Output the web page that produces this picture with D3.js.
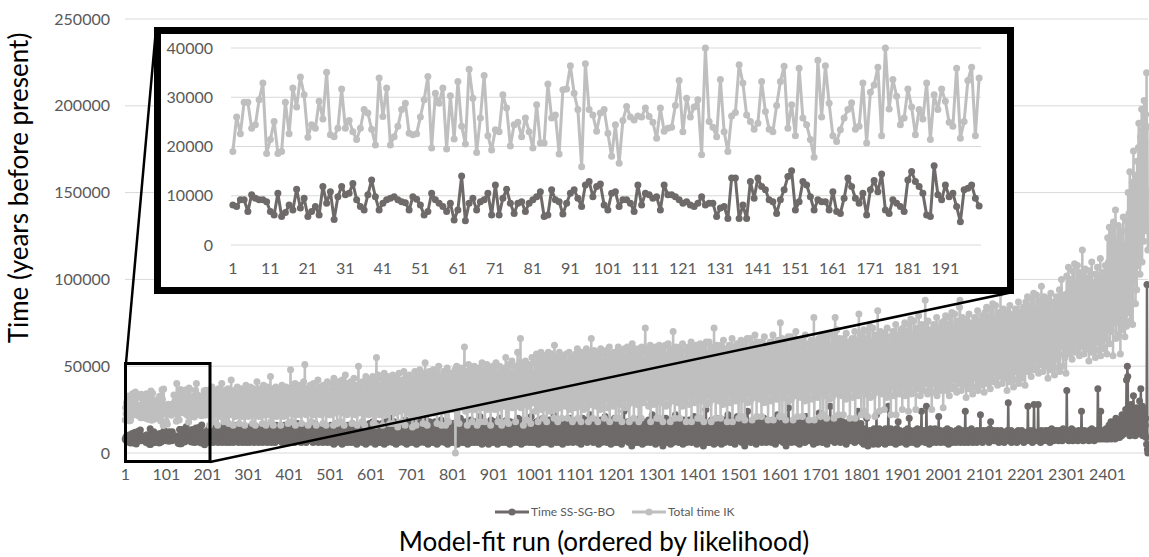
<!DOCTYPE html>
<html>
<head>
<meta charset="utf-8">
<script src="https://cdn.jsdelivr.net/npm/d3@7"></script>
<style>
  body { margin: 0; background: #fff; }
  text { font-family: Lato, "Open Sans", sans-serif; }
</style>
</head>
<body>
<svg id="chart" width="1149" height="557"></svg>
<script>
// all values in thousands of years

// runs 1-200 (the zoomed inset)
const insetDark = [
  8.1,7.8,9.2,9.2,6.8,10.2,9.5,9.2,9.2,8.8,6.8,6.1,10.5,5.8,6.6,8.1,7.1,11.3,7.5,9.5,
  5.8,6.8,7.8,6.1,11.9,8.5,10.8,5.2,9.8,11.9,10.2,10.5,12.5,9.2,7.8,7.1,10.2,
  13.2,9.8,7.1,8.5,9.2,9.5,9.8,9.2,8.8,8.6,7.1,9.8,9.3,8.1,6.1,6.8,10.5,9.2,8.5,7.8,
  6.8,8.5,5.1,7.1,14.0,4.9,8.5,9.5,7.1,8.8,9.2,10.5,6.1,12.2,6.1,9.5,11.3,8.5,6.4,8.5,
  8.8,6.8,8.5,9.2,9.8,10.8,5.8,6.1,11.2,9.2,8.8,6.3,8.5,10.5,11.2,9.5,7.8,12.2,
  12.9,9.8,11.9,12.4,8.1,7.1,10.5,10.8,7.8,9.2,9.2,8.5,6.8,12.2,8.1,10.5,10.2,9.5,9.8,7.1,
  12.2,10.2,10.2,9.8,9.2,8.5,8.8,8.1,7.8,8.5,9.8,8.1,8.5,8.5,5.8,7.5,7.8,5.4,13.6,13.6,
  5.4,8.1,5.4,12.9,9.5,13.6,11.9,11.2,9.2,8.8,6.4,9.2,11.2,13.9,15.1,7.1,
  8.8,12.9,12.2,9.8,7.1,9.2,8.8,8.8,7.1,10.8,6.8,6.4,9.5,13.6,11.9,9.5,8.5,10.5,6.1,11.2,
  13.1,10.8,14.4,7.1,6.4,9.2,8.5,7.8,6.8,13.2,14.9,12.9,11.9,10.5,6.1,5.8,16.1,10.2,9.2,12.2,
  9.8,10.5,7.8,4.7,11.2,11.5,12.2,9.5,7.9
];
const insetLight = [
  19.0,26.0,22.6,29.0,29.0,23.7,24.4,29.5,32.9,18.6,21.4,25.1,18.6,19.0,29.0,22.6,31.9,28.0,34.1,30.5,
  21.9,24.4,23.7,29.2,25.6,35.1,22.4,22.0,23.7,31.7,23.7,25.3,23.0,21.4,23.7,27.5,26.8,23.5,20.3,
  33.9,26.1,31.9,20.3,22.0,24.1,27.5,28.8,22.7,22.4,22.6,26.0,29.5,34.2,19.7,30.8,28.8,31.9,19.5,30.3,
  21.5,33.2,24.1,20.5,35.7,29.8,18.8,25.8,34.4,22.2,19.3,23.4,23.0,30.5,27.8,20.1,24.4,24.9,22.0,25.8,
  23.0,19.7,28.5,20.7,20.7,32.7,25.8,26.4,18.5,31.5,31.7,36.4,30.8,27.5,15.9,36.8,
  27.5,26.4,23.1,26.8,27.5,22.7,18.0,24.4,16.6,25.3,28.1,26.0,25.4,26.2,26.0,27.8,26.1,24.9,21.7,27.8,
  23.1,23.7,23.9,28.3,33.4,23.0,29.8,26.0,28.0,29.5,18.3,40.0,25.1,23.9,22.0,33.6,23.0,19.0,26.2,26.9,
  36.6,32.9,26.4,25.1,23.5,24.7,33.2,27.1,23.5,23.0,28.3,33.2,36.3,23.7,28.5,22.2,
  35.9,25.8,24.4,21.4,17.8,37.5,26.0,36.4,28.8,22.2,21.0,23.4,25.8,27.5,28.9,23.5,24.1,32.9,20.7,31.0,
  32.5,36.1,22.2,40.0,27.6,33.6,30.2,24.4,25.8,31.7,28.0,22.4,27.5,25.6,32.9,21.4,30.5,27.5,31.7,29.2,
  24.9,24.1,35.9,21.7,25.1,33.4,36.1,22.2,33.9
];

// runs 201-2500
const restDark = [
  9,12,7,10,14,8,6,11,9,13,7,10,15,8,11,6,9,12,8,14,10,7,11,9,13,
  8,11,6,13,9,10,15,7,12,8,10,14,6,9,11,13,8,7,12,10,16,9,6,11,8,
  12,7,10,14,9,6,11,13,8,10,15,7,9,12,6,11,14,8,10,9,13,7,11,16,8,
  10,13,6,9,12,8,15,11,7,10,14,9,6,12,8,11,13,7,9,15,10,6,12,8,11,
  7,12,9,14,6,10,13,8,11,16,7,9,12,10,15,6,11,8,13,9,7,14,10,12,8,
  11,6,13,9,10,15,7,12,8,14,9,6,11,13,10,8,16,7,12,9,11,14,6,10,13,
  9,14,7,11,8,13,10,6,15,9,12,7,10,14,8,11,6,13,9,16,7,12,10,8,14,
  12,8,10,15,7,9,13,11,6,14,8,12,10,7,16,9,11,13,6,10,14,8,12,9,7,
  10,15,8,12,6,13,9,11,16,7,10,14,8,12,6,15,9,11,13,7,10,17,8,12,9,
  14,7,11,9,15,6,12,10,8,16,9,13,7,11,14,8,10,6,15,12,9,7,13,11,8,
  11,16,8,10,13,7,9,15,12,6,10,14,8,11,17,9,7,13,10,12,8,15,6,11,9,
  13,9,12,7,15,10,8,14,6,11,16,9,12,7,10,13,8,15,11,6,9,14,10,12,7,
  8,13,10,16,6,11,9,14,7,12,5,15,10,8,13,11,6,17,9,12,7,14,10,8,16,
  11,7,14,9,12,5,16,10,8,13,6,11,15,9,7,12,10,14,6,16,8,11,13,7,10,
  14,9,6,12,10,17,7,11,13,8,15,6,10,12,9,14,5,11,16,8,13,7,10,15,9,
  7,12,15,8,11,6,14,10,9,16,7,13,11,5,12,15,8,10,14,6,11,9,17,7,12,
  10,16,7,13,9,18,6,11,14,8,12,5,15,10,7,17,9,13,11,6,14,8,16,10,12,
  6,13,9,17,11,7,15,10,5,14,12,8,18,9,11,6,13,16,8,10,15,7,12,20,9,
  14,8,11,16,6,12,10,18,7,13,9,15,5,11,14,8,17,10,6,13,12,9,16,7,11,
  9,15,12,7,17,10,6,14,11,8,19,9,13,5,12,16,10,7,15,11,8,14,6,18,10,
  12,7,16,10,14,6,11,18,8,13,9,15,5,12,17,7,10,14,9,16,6,11,13,8,19,
  7,14,10,17,8,12,15,6,11,20,9,13,7,16,10,5,14,12,8,18,11,6,15,9,13,
  16,9,12,6,15,11,8,18,10,7,14,12,5,17,9,13,11,6,16,10,14,8,19,7,12,
  10,13,7,17,9,15,6,12,11,16,8,14,10,5,18,12,7,15,9,13,6,17,11,8,14,
  8,15,11,6,17,9,13,10,14,7,18,12,5,11,16,9,14,8,12,20,7,15,10,13,6,
  13,7,16,10,12,6,18,9,15,11,8,14,5,17,10,13,7,16,12,9,19,6,11,15,8,
  11,17,8,14,6,13,10,18,7,12,15,9,6,16,11,14,8,21,10,7,13,12,5,17,9,
  15,9,12,7,18,10,14,6,13,11,17,8,12,5,16,9,15,11,7,19,10,13,6,14,8,
  7,14,11,18,9,13,6,16,10,12,5,17,8,15,11,20,7,13,9,16,12,6,18,10,14,
  12,8,17,10,14,6,15,9,19,11,7,13,16,8,12,5,18,10,14,9,17,7,11,15,6,
  16,10,13,7,18,11,8,15,12,6,20,9,14,10,17,7,13,11,5,16,9,19,12,8,14,
  9,15,6,13,11,17,8,14,10,18,7,12,16,6,11,15,9,21,8,13,10,17,6,14,12,
  11,17,8,14,6,18,10,13,9,16,5,12,19,8,15,11,7,17,10,14,6,20,9,13,16,
  14,7,12,18,9,15,6,11,17,8,13,10,19,7,16,12,5,14,11,18,8,15,9,22,10,
  8,16,11,6,19,10,14,7,17,12,9,15,6,18,11,13,8,16,10,5,17,12,14,9,19,
  13,9,18,11,7,15,12,6,17,10,14,8,20,11,16,7,13,9,18,6,15,11,12,17,8,
  10,16,7,13,19,9,15,6,12,18,11,8,14,17,5,12,16,9,20,10,13,7,18,11,15,
  17,8,12,15,6,19,10,14,9,16,11,22,7,13,18,8,15,10,12,6,17,9,14,19,11,
  9,14,18,7,12,16,10,5,17,13,8,15,11,19,6,14,12,9,18,10,16,7,13,21,8,
  15,11,6,17,10,13,19,8,14,9,16,12,5,18,11,15,7,13,10,17,9,20,12,6,14,
  8,14,11,17,6,12,15,9,19,7,13,10,16,5,12,18,8,14,11,24,9,15,7,13,10,
  16,7,12,9,18,11,6,14,10,17,8,13,15,4,11,19,9,16,12,7,14,10,18,6,13,
  11,17,9,14,6,15,12,8,20,10,13,7,16,11,5,18,9,14,12,8,17,10,6,15,13,
  7,13,16,10,19,8,12,15,6,14,11,17,9,22,7,13,10,16,8,12,18,5,14,11,9,
  14,8,12,17,10,6,15,11,19,9,13,7,16,12,4,14,10,18,8,15,11,20,9,13,6,
  10,16,7,13,11,18,8,14,5,12,17,9,15,10,6,19,11,13,8,16,22,7,12,14,9,
  17,9,13,6,15,11,8,18,10,14,7,16,12,5,13,19,9,11,15,8,17,10,6,14,12,
  8,14,11,19,7,12,16,9,13,6,15,10,18,8,12,21,7,14,11,16,9,13,5,17,10,
  12,7,16,10,14,9,19,6,13,11,17,8,15,4,12,18,10,14,7,25,11,16,9,13,6,
  15,10,8,17,12,6,14,11,19,9,13,7,16,10,5,18,12,8,15,11,20,9,14,6,13,
  9,16,12,7,18,10,14,5,15,11,8,17,13,9,19,6,12,15,10,14,7,16,11,22,8,
  13,8,17,11,6,15,10,19,9,14,12,7,16,10,13,5,18,11,8,15,12,21,9,14,7,
  10,15,7,13,18,9,12,6,16,11,14,8,19,10,4,13,17,9,15,11,7,24,12,14,8,
  16,9,13,10,6,17,11,15,8,14,12,18,7,10,16,9,13,5,19,11,14,8,12,17,10,
  8,14,11,18,9,12,6,16,10,13,7,20,11,15,9,12,17,6,14,10,18,8,13,11,16,
  12,17,8,14,11,6,15,10,19,7,13,9,16,12,5,18,10,14,8,22,11,15,9,13,7,
  14,9,12,17,7,13,10,16,6,15,11,19,8,12,14,4,17,10,13,9,16,26,11,7,15,
  9,15,11,6,18,10,13,8,16,12,7,14,17,9,11,19,6,13,10,15,8,12,18,5,14,
  16,8,13,10,15,7,19,11,9,14,12,6,17,10,21,8,15,11,13,9,16,7,12,14,10,
  11,17,7,14,9,13,16,5,12,18,10,15,8,13,11,19,6,14,10,16,9,23,12,8,15,
  8,13,16,10,6,15,11,18,9,14,12,7,17,10,13,5,16,11,19,8,14,10,12,27,9,
  15,10,7,14,12,17,8,13,11,6,16,9,19,12,10,15,7,14,11,20,8,13,16,6,12,
  10,16,12,8,18,11,14,7,15,9,13,17,5,12,10,16,8,14,11,18,9,13,7,15,11,
  13,7,15,11,9,17,10,14,6,12,19,8,16,11,13,9,24,10,15,7,12,14,8,17,10,
  9,6,12,8,11,5,10,14,7,9,13,6,20,8,11,4,10,12,7,9,13,6,11,8,10,
  7,12,9,5,11,14,8,10,6,13,9,22,7,11,10,5,12,8,14,9,6,11,13,7,10,
  11,8,13,6,10,9,12,5,14,8,11,7,10,13,9,27,6,12,8,11,10,14,7,9,12,
  6,10,9,13,7,12,8,11,5,10,14,9,7,12,18,8,11,6,13,9,10,7,12,8,11,
  10,7,12,9,6,11,13,8,10,5,12,9,14,7,11,8,20,10,6,13,9,11,7,12,8,
  12,9,6,11,8,13,10,7,12,9,5,14,8,11,10,6,13,9,12,7,11,24,8,10,9,
  7,11,13,8,10,6,12,9,27,11,7,13,10,8,12,5,11,9,14,8,10,12,6,9,11,
  9,12,8,10,14,7,11,6,13,9,10,12,8,21,7,11,9,13,6,10,12,8,11,7,10,
  11,8,10,13,6,12,9,7,11,14,8,10,5,12,9,11,7,13,8,10,12,6,9,11,8,
  10,12,7,9,11,6,13,8,10,12,7,9,14,11,8,10,6,12,9,11,7,13,10,8,12,
  9,6,11,24,8,10,12,7,9,13,6,11,8,10,12,7,9,11,14,8,10,6,12,9,11,
  7,10,12,8,11,9,6,13,10,8,12,9,11,7,10,22,8,12,9,11,6,10,13,8,9,
  12,9,8,11,10,13,7,9,12,8,10,6,11,14,9,18,7,12,10,8,11,9,13,7,10,
  8,11,10,7,12,9,13,8,10,11,6,12,9,10,8,13,7,11,9,12,10,8,11,6,9,
  11,7,12,9,10,8,13,10,29,7,11,9,12,8,10,13,6,11,9,12,8,10,7,11,9,
  10,12,8,11,6,10,9,13,7,11,10,8,12,9,11,7,13,10,8,12,9,6,11,10,8,
  9,11,7,12,10,8,27,9,11,13,7,10,8,12,9,11,10,6,13,8,11,28,9,12,7,
  10,8,12,9,11,7,28,10,8,12,9,11,6,10,13,8,9,11,7,12,10,8,11,9,13,
  8,12,10,7,11,9,13,8,10,12,6,9,11,10,14,8,12,9,11,7,10,13,8,11,9,
  11,9,13,8,10,12,7,11,9,10,13,8,12,9,11,7,10,14,8,12,9,11,10,12,8,
  9,36,11,8,12,10,7,13,9,11,8,12,10,14,9,11,7,10,13,8,12,9,11,10,8,
  12,9,11,7,10,13,8,11,9,12,10,8,24,9,11,10,7,12,9,13,8,11,10,12,9,
  10,8,12,9,11,7,13,10,8,12,9,11,14,8,10,12,9,11,7,10,13,9,12,8,11,
  9,11,37,13,8,12,9,11,10,24,8,12,9,11,10,10,13,8,12,9,11,10,14,8,12,
  10,13,8,12,16,9,11,14,10,18,8,12,15,9,13,11,17,10,14,8,12,20,11,15,9,
  13,10,16,12,19,9,14,11,17,13,10,22,12,15,18,11,14,20,13,16,25,14,42,19,50,
  44,18,12,25,15,10,20,14,28,11,16,22,13,19,33,12,24,15,10,21,14,17,26,12,18,
  15,23,11,19,30,13,16,37,12,21,14,27,10,18,22,13,25,11,16,20,9,5,97,2,0
];
const restLight = [
  27,33,22,29,36,24,16,31,26,35,23,28,38,21,30,25,33,18,27,36,24,29,22,34,26,
  31,16,28,37,23,26,32,21,35,27,24,40,22,29,33,25,18,30,36,23,28,34,21,26,31,
  24,37,27,17,32,29,23,35,26,42,22,30,25,33,16,28,36,24,31,21,27,34,23,29,38,
  22,30,26,35,17,28,33,25,37,23,29,21,32,27,36,24,30,16,34,26,39,22,28,31,25,
  33,21,29,36,24,27,38,22,31,26,34,17,30,25,37,23,28,32,16,35,27,24,41,22,30,
  26,34,21,29,37,25,31,23,36,28,17,33,26,39,22,30,27,35,24,16,32,28,38,23,29,
  25,36,22,31,27,44,18,33,26,30,24,37,16,28,34,25,32,23,38,27,21,35,29,24,33,
  28,22,36,26,31,16,34,27,39,23,30,25,37,21,29,33,26,24,38,22,31,28,35,17,32,
  27,35,23,30,48,25,33,18,38,28,24,36,22,31,26,40,16,29,34,25,37,23,30,27,39,
  22,32,26,36,24,29,17,38,27,33,25,41,23,30,51,26,35,22,28,37,24,32,16,34,27,
  31,23,39,26,33,18,30,36,25,28,40,22,34,27,31,24,37,16,29,35,26,42,23,32,28,
  25,38,22,33,29,36,24,30,17,39,27,34,23,37,26,31,16,35,28,41,24,30,26,36,22,
  34,25,40,22,31,28,37,24,33,16,43,27,30,36,23,39,26,32,17,35,29,41,24,33,27,
  38,18,30,35,26,42,23,32,28,39,16,34,27,45,24,31,36,22,29,40,25,33,28,37,23,
  30,41,26,35,17,38,28,32,24,43,27,36,22,31,39,25,34,16,37,29,50,23,33,26,40,
  24,36,29,32,18,41,27,35,25,38,16,33,30,44,23,37,26,31,28,42,22,34,27,39,25,
  31,40,23,35,27,44,17,33,29,38,25,42,16,36,55,28,32,24,45,26,39,30,22,37,34,
  27,43,24,35,16,40,29,33,46,23,37,26,31,41,22,34,28,44,25,38,30,17,36,27,42,
  24,39,32,26,45,17,35,29,41,23,37,28,33,43,25,30,15,38,27,46,24,34,31,40,26,
  36,18,42,29,33,25,47,27,35,16,39,31,44,24,32,28,40,23,37,26,45,30,34,22,41,
  28,36,15,43,31,25,39,27,47,22,34,16,41,30,26,45,33,24,38,29,48,23,35,27,42,
  31,25,46,17,37,29,40,26,52,24,33,28,44,16,38,30,35,25,47,27,41,23,36,32,45,
  26,39,30,48,23,34,28,42,25,37,31,46,17,40,27,33,50,24,36,29,44,26,38,16,43,
  30,35,27,47,24,41,29,38,16,45,32,26,49,28,36,18,42,31,39,25,46,27,34,30,44,
  33,27,45,25,39,30,48,0,36,29,50,18,41,32,28,46,17,38,31,44,26,35,49,27,40,
  30,45,26,38,61,29,42,24,36,33,47,16,40,28,51,31,35,25,44,30,39,27,48,18,37,
  42,28,34,50,25,39,31,46,27,43,16,37,33,49,26,41,30,35,18,47,29,38,52,26,44,
  27,40,33,48,18,36,30,45,28,51,25,38,32,43,26,49,30,35,16,46,29,41,34,50,27,
  38,30,47,25,42,33,52,27,39,31,46,18,36,44,29,50,26,40,32,48,16,37,45,28,41,
  33,49,27,43,30,55,18,38,34,47,29,41,17,51,31,37,45,28,42,35,53,26,39,30,46,
  28,44,36,50,18,40,32,47,30,58,27,37,43,29,52,33,66,26,39,31,48,35,42,16,50,
  31,45,28,53,34,40,19,49,32,38,44,27,51,30,36,47,17,42,33,55,29,39,46,31,43,
  36,52,24,45,31,57,28,41,49,18,38,55,33,27,47,40,58,25,35,50,29,43,20,53,39,
  46,26,56,34,42,18,51,37,30,58,44,28,48,35,24,54,41,32,57,27,45,38,50,20,62,
  31,49,40,25,55,36,44,18,52,29,47,58,33,26,43,38,56,20,50,35,41,28,54,30,46,
  53,27,39,57,32,46,20,50,42,36,58,25,45,34,51,29,40,55,18,48,37,53,31,44,26,
  41,57,29,48,36,60,20,45,52,33,27,55,39,46,18,58,35,43,50,30,56,25,47,38,54,
  32,49,60,26,44,37,53,18,58,40,31,51,45,28,66,36,42,55,20,48,34,59,29,46,39,
  56,27,43,51,35,18,58,41,30,54,47,25,60,37,44,33,52,28,49,39,57,20,46,34,53,
  38,59,31,47,26,55,42,34,61,18,50,39,45,29,57,36,52,27,48,43,58,32,40,54,20,
  44,58,30,51,37,61,20,47,54,34,28,57,41,49,18,59,36,45,52,31,60,26,48,39,55,
  33,50,61,27,46,38,56,18,59,42,32,53,47,29,63,37,43,57,20,51,35,60,30,47,40,
  57,28,44,52,36,18,60,42,31,55,48,20,61,38,45,34,53,29,50,40,58,72,47,35,54,
  39,60,32,49,27,57,43,35,62,18,51,40,46,30,59,37,54,28,49,44,61,33,41,56,20,
  45,60,31,52,38,62,20,48,55,35,29,58,42,50,18,61,37,46,53,32,62,27,49,40,56,
  34,51,63,28,47,39,57,18,60,43,33,54,48,30,70,38,44,58,20,52,36,61,31,48,41,
  58,29,45,53,37,20,61,43,32,56,49,27,63,39,46,35,54,30,51,41,59,18,48,36,55,
  40,61,33,50,28,58,44,36,64,18,52,41,47,31,60,38,55,29,50,45,62,34,42,57,20,
  46,61,32,53,39,63,20,49,56,36,30,59,43,51,18,62,38,47,54,33,64,28,50,41,57,
  35,52,64,29,48,40,58,18,61,44,34,55,49,31,72,39,45,59,20,53,37,62,32,49,42,
  59,30,46,54,38,20,62,44,33,57,50,28,65,40,47,36,55,31,52,42,60,18,49,37,56,
  41,62,34,51,29,59,45,37,66,18,53,42,48,32,61,39,56,30,51,46,63,35,43,58,20,
  47,63,33,55,40,65,21,50,58,37,31,61,44,52,19,64,39,48,56,34,66,29,51,42,59,
  36,54,66,30,49,41,60,19,63,45,35,57,50,32,68,40,46,61,21,55,38,64,33,50,43,
  61,31,47,56,39,21,64,45,34,59,51,29,67,41,48,37,57,32,53,43,62,19,50,38,58,
  42,64,35,52,30,61,46,38,68,19,54,43,49,33,63,40,58,31,52,47,65,36,44,60,21,
  48,75,34,56,41,66,21,51,59,38,32,62,45,53,19,65,40,49,57,35,67,30,52,43,60,
  37,55,67,31,50,42,61,19,64,46,36,58,51,33,70,41,47,62,21,56,39,65,34,51,44,
  62,32,48,57,40,21,65,46,35,60,52,30,68,42,49,38,58,33,54,44,63,19,51,39,59,
  43,65,36,53,31,62,47,39,78,19,55,44,50,34,64,41,59,32,53,48,66,37,45,61,21,
  49,67,35,57,42,68,22,52,60,39,33,63,46,54,20,66,41,50,58,36,69,31,53,44,61,
  38,56,68,32,51,43,62,20,65,47,78,59,52,34,71,42,48,63,22,57,40,66,35,52,45,
  63,33,49,58,41,22,66,47,36,61,53,31,69,43,50,39,59,34,55,45,64,20,52,40,60,
  44,66,37,54,32,63,48,40,70,20,56,45,51,35,65,42,60,33,80,49,67,38,46,62,22,
  51,69,36,59,44,71,24,54,63,40,34,66,48,56,21,70,43,52,61,37,73,32,55,46,64,
  39,58,72,33,53,45,65,21,68,49,37,62,54,35,82,44,50,66,24,59,41,70,36,54,47,
  66,34,51,61,42,25,69,49,38,64,55,32,72,45,52,40,62,35,57,47,67,22,54,42,63,
  46,70,38,56,33,66,50,41,74,22,58,47,53,36,68,44,63,34,58,51,71,39,48,65,25,
  54,72,38,62,46,75,33,57,66,42,36,70,50,59,24,74,45,55,64,39,77,34,58,48,67,
  41,61,76,35,56,47,69,25,72,52,39,65,57,37,79,46,53,70,33,62,43,74,38,57,49,
  70,36,54,64,44,88,73,52,40,68,58,34,76,48,55,42,66,37,60,50,71,25,57,45,67,
  49,74,40,59,35,70,53,43,78,33,61,50,56,38,72,47,67,36,62,54,75,41,51,69,26,
  58,76,41,66,49,79,36,61,70,45,39,74,53,63,33,78,48,59,68,42,81,37,62,51,71,
  44,65,80,38,60,50,73,35,76,55,42,69,61,40,84,88,57,74,36,66,46,78,41,61,52,
  74,39,58,68,47,32,77,55,43,72,62,37,80,51,59,45,70,40,64,53,75,34,61,48,71,
  52,78,43,63,38,74,57,46,82,36,65,53,60,41,76,50,71,39,66,58,79,44,55,73,35,
  63,81,45,71,53,84,40,66,75,49,43,79,57,68,37,83,52,64,73,46,86,41,67,55,76,
  48,70,85,42,65,54,78,39,81,59,46,74,66,44,92,53,61,79,40,71,50,83,45,66,56,
  79,43,63,73,51,36,82,60,47,77,67,41,85,55,64,49,75,44,69,58,80,38,66,52,76,
  56,83,47,68,42,79,62,50,87,40,70,57,65,45,81,54,76,43,71,63,84,48,60,78,39,
  70,87,52,78,60,90,47,73,82,56,50,85,64,75,44,89,59,71,80,53,92,48,74,62,83,
  55,77,91,49,72,61,84,46,88,66,53,81,73,51,96,60,68,86,47,78,57,90,52,73,63,
  86,50,70,80,58,43,89,67,54,84,74,48,92,62,71,56,82,51,76,65,87,45,73,59,83,
  63,90,54,75,49,86,69,57,94,47,77,64,72,100,88,61,83,50,78,70,91,55,67,85,46,
  82,102,62,92,71,107,57,86,97,66,60,100,75,88,54,105,70,84,95,63,109,58,87,73,98,
  65,91,108,59,85,72,99,56,104,78,63,96,86,61,117,71,80,102,57,92,67,106,62,86,74,
  101,60,83,94,69,53,105,79,64,99,87,58,110,73,84,66,97,61,90,77,103,55,86,70,98,
  75,107,64,89,59,102,82,68,112,56,91,76,85,62,104,72,98,60,93,83,108,66,79,100,57,
  96,124,72,110,84,130,63,104,118,79,70,127,90,107,56,133,85,101,121,75,140,66,106,88,122,
  78,112,131,68,103,86,125,57,117,93,74,128,104,71,136,83,98,120,67,115,80,134,73,108,92,
  105,150,82,138,96,162,76,128,145,88,118,156,74,134,174,99,143,112,160,86,131,152,94,168,120,
  108,176,190,115,164,103,182,126,158,198,110,172,140,186,122,203,135,178,146,195,128,219,150,188,117
];

const seriesNames = ['Time SS-SG-BO', 'Total time IK'];
const seriesColors = ['#6f6a6a', '#bfbfbf'];
const mainYTicks = [0, 50000, 100000, 150000, 200000, 250000];
const mainXTicks = d3.range(1, 2402, 100);
const insetYTicks = [0, 10000, 20000, 30000, 40000];
const insetXTicks = d3.range(1, 192, 10);

const darkAll = insetDark.concat(restDark);
const lightAll = insetLight.concat(restLight);
const N = Math.max(darkAll.length, lightAll.length);

const svg = d3.select('#chart');
svg.append('rect').attr('width', 1149).attr('height', 557).attr('fill', '#fff');

function drawSeries(g, values, x, y, color, lw, r) {
  const cx = (i) => x(i + 1) + x.bandwidth() / 2;
  g.append('path')
    .datum(values)
    .attr('fill', 'none')
    .attr('stroke', color)
    .attr('stroke-width', lw)
    .attr('stroke-linejoin', 'round')
    .attr('d', d3.line().x((d, i) => cx(i)).y((d) => y(d * 1000)));
  g.append('g')
    .selectAll('circle')
    .data(values)
    .join('circle')
    .attr('cx', (d, i) => cx(i))
    .attr('cy', (d) => y(d * 1000))
    .attr('r', r)
    .attr('fill', color);
}

// ---- main chart ----
let x = d3.scaleBand().domain(d3.range(1, N + 1)).range([125, 1148]);
let y = d3.scaleLinear().domain([0, 250000]).range([453, 19]);

svg.append('g')
  .selectAll('line')
  .data(mainYTicks)
  .join('line')
  .attr('x1', 125).attr('x2', 1148)
  .attr('y1', (d) => y(d)).attr('y2', (d) => y(d))
  .attr('stroke', '#d9d9d9');

let yAxis = svg.append('g')
  .attr('transform', 'translate(110,0)')
  .call(d3.axisLeft(y).tickValues(mainYTicks).tickSize(0).tickPadding(0).tickFormat(d3.format('d')));
yAxis.select('.domain').remove();
yAxis.selectAll('text').attr('font-size', 16).attr('fill', '#595959').attr('font-family', 'Lato');

let xAxis = svg.append('g')
  .attr('transform', 'translate(0,469)')
  .call(d3.axisBottom(x).tickValues(mainXTicks).tickSize(0).tickPadding(0));
xAxis.select('.domain').remove();
xAxis.selectAll('text').attr('font-size', 16).attr('fill', '#595959').attr('font-family', 'Lato');

let mainG = svg.append('g');
drawSeries(mainG, darkAll, x, y, seriesColors[0], 2.5, 3.5);
drawSeries(mainG, lightAll, x, y, seriesColors[1], 2.5, 3.5);

// small box round runs 1-200 and the lines to the inset
svg.append('rect')
  .attr('x', 125.5).attr('y', 363.5).attr('width', 84.5).attr('height', 98)
  .attr('fill', 'none').attr('stroke', '#000').attr('stroke-width', 3);
svg.append('line').attr('x1', 126).attr('y1', 363).attr('x2', 156).attr('y2', 29)
  .attr('stroke', '#000').attr('stroke-width', 2.5);
svg.append('line').attr('x1', 210).attr('y1', 462).attr('x2', 1013).attr('y2', 292)
  .attr('stroke', '#000').attr('stroke-width', 2.5);

// ---- inset ----
let inset = svg.append('g');
inset.append('rect')
  .attr('x', 157.5).attr('y', 30.5).attr('width', 853).attr('height', 260)
  .attr('fill', '#fff').attr('stroke', '#000').attr('stroke-width', 7);

let xi = d3.scaleBand().domain(d3.range(1, insetDark.length + 1)).range([231, 981]);
let yi = d3.scaleLinear().domain([0, 40000]).range([245, 48]);

inset.append('g')
  .selectAll('line')
  .data(insetYTicks)
  .join('line')
  .attr('x1', 231).attr('x2', 981)
  .attr('y1', (d) => yi(d)).attr('y2', (d) => yi(d))
  .attr('stroke', '#d9d9d9');

let yiAxis = inset.append('g')
  .attr('transform', 'translate(213,0)')
  .call(d3.axisLeft(yi).tickValues(insetYTicks).tickSize(0).tickPadding(0).tickFormat(d3.format('d')));
yiAxis.select('.domain').remove();
yiAxis.selectAll('text').attr('font-size', 16).attr('fill', '#595959').attr('font-family', 'Lato');

let xiAxis = inset.append('g')
  .attr('transform', 'translate(0,263)')
  .call(d3.axisBottom(xi).tickValues(insetXTicks).tickSize(0).tickPadding(0));
xiAxis.select('.domain').remove();
xiAxis.selectAll('text').attr('font-size', 16).attr('fill', '#595959').attr('font-family', 'Lato');

drawSeries(inset, insetDark, xi, yi, seriesColors[0], 3, 3.5);
drawSeries(inset, insetLight, xi, yi, seriesColors[1], 3, 3.5);

// ---- titles ----
svg.append('text')
  .attr('transform', 'translate(19,188) rotate(-90)')
  .attr('text-anchor', 'middle').attr('dy', '0.35em')
  .attr('font-size', 26).attr('fill', '#000')
  .text('Time (years before present)');
svg.append('text')
  .attr('x', 604).attr('y', 551)
  .attr('text-anchor', 'middle')
  .attr('font-size', 26).attr('fill', '#000')
  .text('Model-fit run (ordered by likelihood)');

// ---- legend ----
const legendX = [495, 632];
seriesNames.forEach((name, k) => {
  let lg = svg.append('g').attr('transform', `translate(${legendX[k]},512)`);
  lg.append('line').attr('x1', 0).attr('x2', 34).attr('stroke', seriesColors[k]).attr('stroke-width', 3);
  lg.append('circle').attr('cx', 17).attr('r', 3.5).attr('fill', seriesColors[k]);
  lg.append('text').attr('x', 36).attr('dy', '0.35em')
    .attr('font-size', 12).attr('fill', '#595959').text(name);
});
</script>
</body>
</html>
